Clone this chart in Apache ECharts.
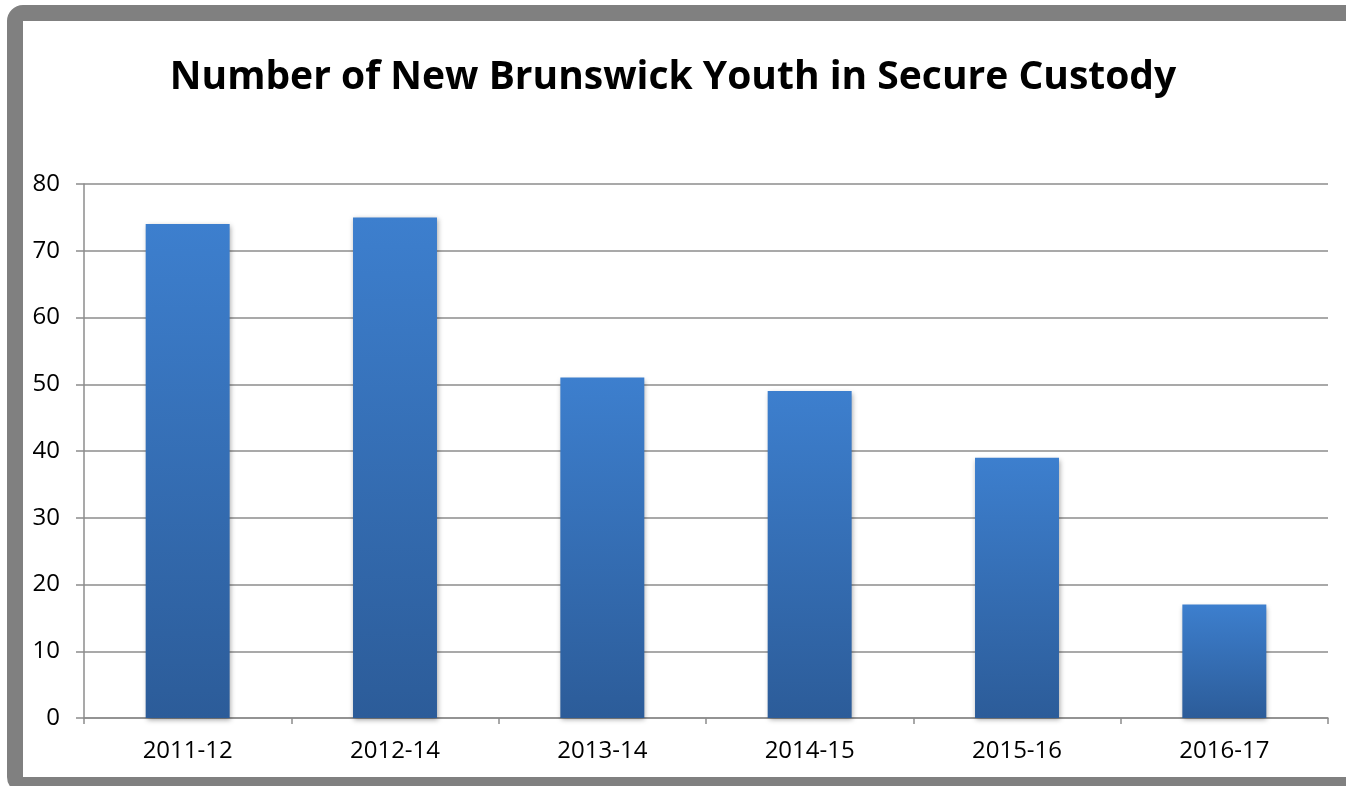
<!DOCTYPE html>
<html>
<head>
<meta charset="utf-8">
<title>Number of New Brunswick Youth in Secure Custody</title>
<script src="https://cdn.jsdelivr.net/npm/echarts@6/dist/echarts.min.js"></script>
<style>
  html, body { margin: 0; padding: 0; background: #ffffff; }
  #chart { width: 1346px; height: 786px; }
</style>
</head>
<body>
<div id="chart"></div>
<script>
// Fiscal years and youth counts in secure custody
const categories = ['2011-12', '2012-14', '2013-14', '2014-15', '2015-16', '2016-17'];
const youthCounts = [74, 75, 51, 49, 39, 17];
const chartTitle = 'Number of New Brunswick Youth in Secure Custody';

const fontFamily = '"Open Sans", "Noto Sans", sans-serif';
const axisGray = '#8c8c8c';

const chart = echarts.init(document.getElementById('chart'), null, { renderer: 'canvas' });

chart.setOption({
  backgroundColor: '#ffffff',
  animation: false,
  title: {
    text: chartTitle,
    left: 'center',
    top: 53,
    textStyle: {
      fontFamily: fontFamily,
      fontWeight: 'bold',
      fontSize: 39,
      color: '#000000'
    }
  },
  graphic: [
    {
      // grey frame around the chart area
      type: 'rect',
      shape: { x: 15, y: 13, width: 1500, height: 772, r: 8 },
      style: { fill: 'none', stroke: '#808080', lineWidth: 16 },
      silent: true,
      z: 100
    }
  ],
  grid: {
    left: 84,
    right: 18,
    top: 184,
    bottom: 68,
    containLabel: false
  },
  xAxis: {
    type: 'category',
    data: categories,
    boundaryGap: true,
    axisLine: { show: true, lineStyle: { color: axisGray, width: 1.5 } },
    axisTick: { show: true, length: 6, interval: 0, lineStyle: { color: axisGray, width: 1.5 } },
    axisLabel: {
      margin: 21,
      fontFamily: fontFamily,
      fontSize: 24,
      color: '#000000'
    },
    splitLine: { show: false }
  },
  yAxis: {
    type: 'value',
    min: 0,
    max: 80,
    interval: 10,
    axisLine: { show: true, lineStyle: { color: axisGray, width: 1.5 } },
    axisTick: { show: true, length: 8, lineStyle: { color: axisGray, width: 1.5 } },
    axisLabel: {
      margin: 24,
      fontFamily: fontFamily,
      fontSize: 24,
      color: '#000000'
    },
    splitLine: { show: true, lineStyle: { color: axisGray, width: 1.5 } }
  },
  series: [
    {
      type: 'bar',
      data: youthCounts,
      barWidth: '40.5%',
      itemStyle: {
        color: new echarts.graphic.LinearGradient(0, 0, 0, 1, [
          { offset: 0, color: '#3d7fce' },
          { offset: 1, color: '#2c5c99' }
        ]),
        shadowColor: 'rgba(0, 0, 0, 0.35)',
        shadowBlur: 5,
        shadowOffsetX: 1,
        shadowOffsetY: 2
      }
    }
  ]
});
</script>
</body>
</html>
